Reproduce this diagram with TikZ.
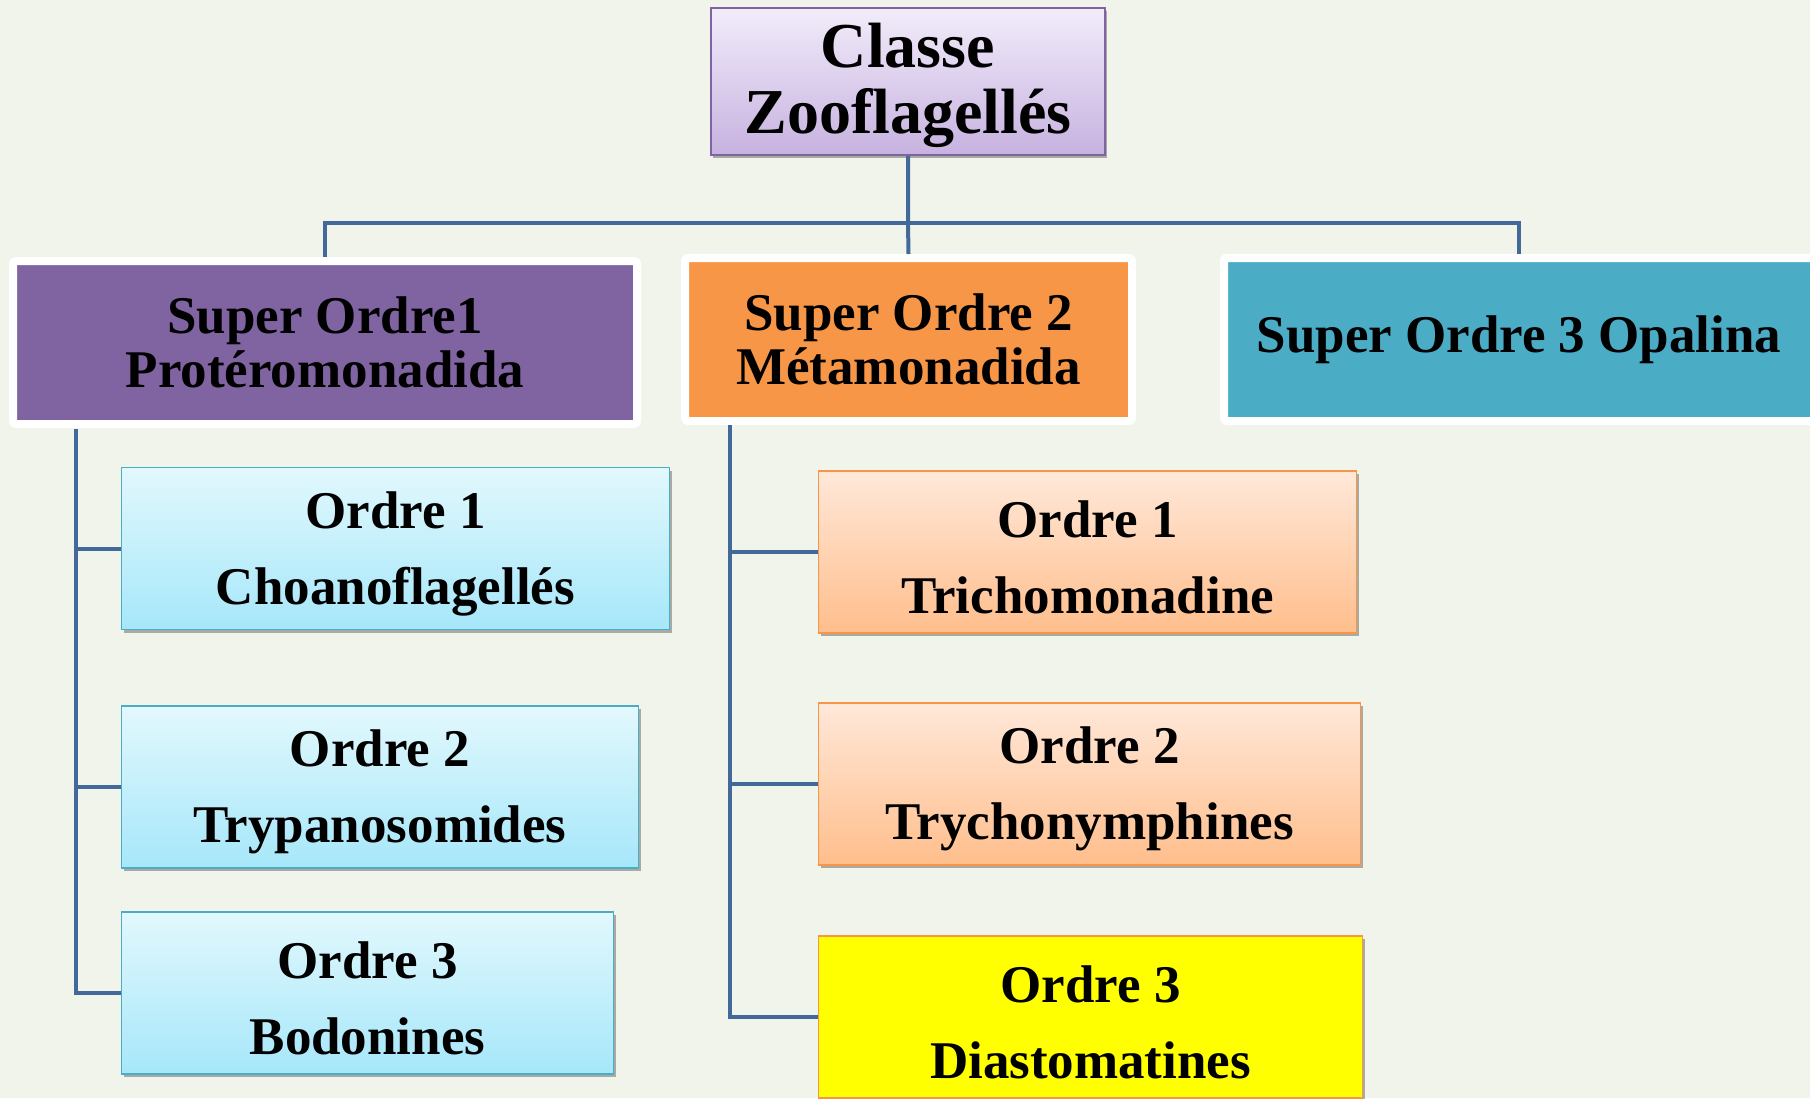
\documentclass[tikz,border=0pt]{standalone}
\usepackage{fontspec}
\setmainfont{Liberation Serif}
\usetikzlibrary{shadows}

\definecolor{bgcol}{HTML}{F1F4EB}
\definecolor{linkblue}{HTML}{43699B}
\definecolor{purp}{HTML}{8064A2}
\definecolor{lilactop}{HTML}{F2ECFA}
\definecolor{lilacbot}{HTML}{C7B2E0}
\definecolor{orng}{HTML}{F79646}
\definecolor{tealc}{HTML}{4BACC6}
\definecolor{cyantop}{HTML}{E2F8FD}
\definecolor{cyanbot}{HTML}{A6E7FA}
\definecolor{peachtop}{HTML}{FFE8D9}
\definecolor{peachbot}{HTML}{FFBE8C}
\definecolor{yel}{HTML}{FFFF00}

% invisible struts that lower the first line of a label a little
\newcommand\clsstrut{\rule{0pt}{52pt}}
\newcommand\ordstrut{\rule{0pt}{47pt}}

\tikzset{
  conn/.style={draw=linkblue, line width=4pt},
  softshadow/.style={drop shadow={shadow xshift=2pt, shadow yshift=-3pt, opacity=0.3, fill=black}},
  classbox/.style={draw=purp, line width=2pt, top color=lilactop, bottom color=lilacbot,
    minimum width=394pt, minimum height=147pt, inner sep=0pt, softshadow,
    font=\fontsize{64}{66}\selectfont\bfseries, align=center},
  superbox/.style={draw=white, line width=8pt, rounded corners=3pt, inner sep=0pt,
    minimum height=163pt, softshadow,
    font=\fontsize{53}{54}\selectfont\bfseries, align=center},
  ordbox/.style={line width=1.5pt, inner sep=0pt, minimum height=162pt, softshadow,
    font=\fontsize{53}{76}\selectfont\bfseries, align=center},
  blueord/.style={ordbox, draw=tealc, top color=cyantop, bottom color=cyanbot},
  orangeord/.style={ordbox, draw=orng, top color=peachtop, bottom color=peachbot},
  yelloword/.style={ordbox, draw=orng, fill=yel},
}

\begin{document}
\begin{tikzpicture}[x=1pt, y=-1pt]
  \fill[bgcol] (0,0) rectangle (1810,1098);
  \useasboundingbox (0,0) rectangle (1810,1098);

  % class
  \node[classbox] (cls) at (908,81.5) {\clsstrut Classe\\Zooflagellés};

  % super orders
  \node[superbox, fill=purp, minimum width=624pt] (so1) at (325,342.5) {Super Ordre1\\Protéromonadida};
  \node[superbox, fill=orng, minimum width=447pt] (so2) at (908.5,339.5) {Super Ordre 2\\Métamonadida};
  \node[superbox, fill=tealc, minimum width=590pt] (so3) at (1519,339.5) {Super Ordre 3 Opalina};

  % orders of the first super order
  \node[blueord, minimum width=548pt] (a1) at (395.5,548.5) {\ordstrut Ordre 1\\Choanoflagellés};
  \node[blueord, minimum width=517pt] (a2) at (380,787) {\ordstrut Ordre 2\\Trypanosomides};
  \node[blueord, minimum width=492pt] (a3) at (367.5,993) {\ordstrut Ordre 3\\Bodonines};

  % orders of the second super order
  \node[orangeord, minimum width=538pt] (b1) at (1087.5,552) {\ordstrut Ordre 1\\Trichomonadine};
  \node[orangeord, minimum width=542pt] (b2) at (1089.5,784) {\ordstrut Ordre 2\\Trychonymphines};
  \node[yelloword, minimum width=544pt] (b3) at (1090.5,1017) {\ordstrut Ordre 3\\Diastomatines};

  % class to super orders
  \coordinate (hub) at (908,223);
  \draw[conn] (cls.south) -- (hub) -- (so2.north);
  \draw[conn] (hub) -| (so1.north);
  \draw[conn] (hub) -| (so3.north);

  % first super order to its orders
  \coordinate (ta) at (76,429);
  \draw[conn] (ta) |- (a3.west);
  \draw[conn] (ta |- a1.west) -- (a1.west);
  \draw[conn] (ta |- a2.west) -- (a2.west);

  % second super order to its orders
  \coordinate (tb) at (730,425);
  \draw[conn] (tb) |- (b3.west);
  \draw[conn] (tb |- b1.west) -- (b1.west);
  \draw[conn] (tb |- b2.west) -- (b2.west);
\end{tikzpicture}
\end{document}
